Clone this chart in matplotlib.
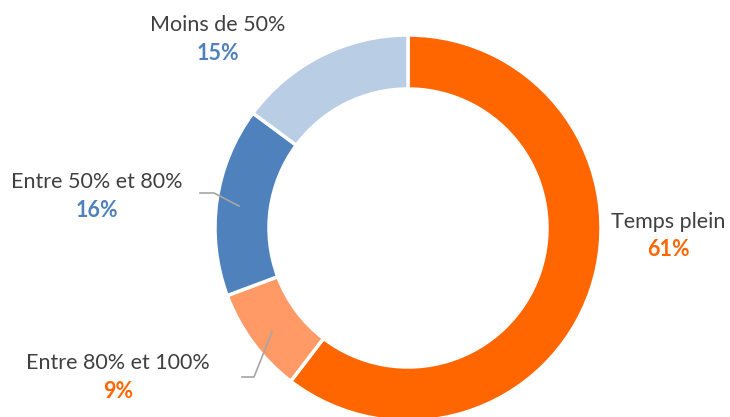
import matplotlib
matplotlib.use('Agg')
import matplotlib.pyplot as plt

# données
categories = ['Temps plein', 'Entre 80% et 100%', 'Entre 50% et 80%', 'Moins de 50%']
valeurs = [61, 9, 16, 15]
etiquettes_pct = ['61%', '9%', '16%', '15%']

couleurs = ['#FF6600', '#FF9966', '#4F81BD', '#B9CDE5']
couleurs_pct = ['#FF6600', '#FF6600', '#4F81BD', '#4F81BD']

plt.rcParams['font.family'] = ['Lato', 'DejaVu Sans']

fig = plt.figure(figsize=(7.3, 4.17), dpi=100)
ax = fig.add_axes([0, 0, 1, 1])

# anneau
cx, cy, r = 408, 417 - 228, 193
ax.pie(valeurs, colors=couleurs, startangle=90, counterclock=False,
       center=(cx, cy), radius=r, frame=True,
       wedgeprops=dict(width=54, edgecolor='white', linewidth=2.5))
ax.set_xlim(0, 730)
ax.set_ylim(0, 417)
ax.set_aspect('equal')
ax.axis('off')

# positions des étiquettes (px depuis le haut)
pos_lab = [(668, 222), (118, 363), (97, 182), (218, 25)]
for (x, y), cat, pct, c in zip(pos_lab, categories, etiquettes_pct, couleurs_pct):
    ax.text(x, 417 - y, cat, ha='center', va='center', fontsize=15.5, color='#404040')
    ax.text(x, 417 - y - 28, pct, ha='center', va='center', fontsize=15.5,
            color=c, fontweight='bold')

# lignes de repère
ax.plot([200, 214, 239], [417 - 193, 417 - 193, 417 - 206], color='#A6A6A6', lw=1.2)
ax.plot([242, 254, 272], [417 - 377, 417 - 377, 417 - 332], color='#A6A6A6', lw=1.2)

fig.savefig('out.png', dpi=100)
